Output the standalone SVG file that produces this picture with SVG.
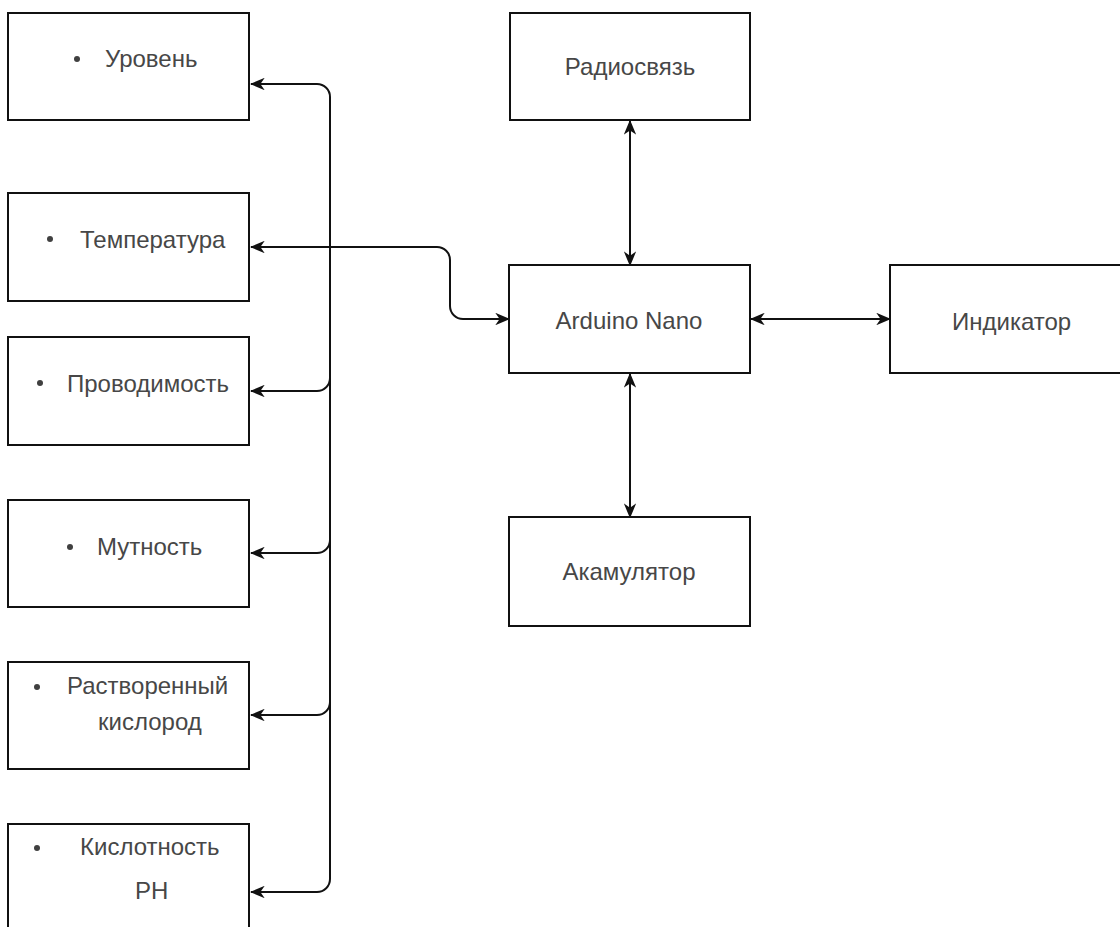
<svg xmlns="http://www.w3.org/2000/svg" width="1120" height="927" viewBox="0 0 1120 927">
<style>
.box{fill:#fff;stroke:#111;stroke-width:2}
.t{font-family:"Liberation Sans",Arial,sans-serif;font-size:24px;fill:#474747}
.c{text-anchor:middle}
.b{fill:#404040}
.ln{fill:none;stroke:#111;stroke-width:2}
</style>
<defs>
<marker id="arr" viewBox="0 0 12 10" refX="11" refY="5" markerWidth="15" markerHeight="12.5" markerUnits="userSpaceOnUse" orient="auto-start-reverse">
<path d="M0,0 L12,5 L0,10 L3.5,5 Z" fill="#111"/>
</marker>
</defs>
<rect width="1120" height="927" fill="#fff"/>
<g id="connectors">
<path class="ln" d="M330,97 L330,879"/>
<path class="ln" marker-end="url(#arr)" d="M330,97 A13,13 0 0 0 317,84 L251,84"/>
<path class="ln" marker-start="url(#arr)" marker-end="url(#arr)" d="M251,247 L437,247 A13,13 0 0 1 450,260 L450,306 A13,13 0 0 0 463,319 L509,319"/>
<path class="ln" marker-end="url(#arr)" d="M330,378 A13,13 0 0 1 317,391 L251,391"/>
<path class="ln" marker-end="url(#arr)" d="M330,540 A13,13 0 0 1 317,553 L251,553"/>
<path class="ln" marker-end="url(#arr)" d="M330,702 A13,13 0 0 1 317,715 L251,715"/>
<path class="ln" marker-end="url(#arr)" d="M330,879 A13,13 0 0 1 317,892 L251,892"/>
<path class="ln" marker-start="url(#arr)" marker-end="url(#arr)" d="M630,121 L630,265"/>
<path class="ln" marker-start="url(#arr)" marker-end="url(#arr)" d="M630,374 L630,517"/>
<path class="ln" marker-start="url(#arr)" marker-end="url(#arr)" d="M751,319 L890,319"/>
</g>
<g id="n-uroven">
<rect class="box" x="8" y="13" width="241" height="107"/>
<circle class="b" cx="77" cy="59" r="3"/>
<text class="t" x="105" y="67">Уровень</text>
</g>
<g id="n-temp">
<rect class="box" x="8" y="193" width="241" height="108"/>
<circle class="b" cx="50" cy="239" r="3"/>
<text class="t" x="80" y="248">Температура</text>
</g>
<g id="n-provod">
<rect class="box" x="8" y="337" width="241" height="108"/>
<circle class="b" cx="40" cy="383" r="3"/>
<text class="t" x="67" y="392">Проводимость</text>
</g>
<g id="n-mutn">
<rect class="box" x="8" y="500" width="241" height="107"/>
<circle class="b" cx="70" cy="547" r="3"/>
<text class="t" x="97" y="555">Мутность</text>
</g>
<g id="n-kisl">
<rect class="box" x="8" y="662" width="241" height="107"/>
<circle class="b" cx="37" cy="687" r="3"/>
<text class="t" x="67" y="694">Растворенный</text>
<text class="t" x="98" y="730">кислород</text>
</g>
<g id="n-ph">
<rect class="box" x="8" y="824" width="241" height="110"/>
<circle class="b" cx="37" cy="848" r="3"/>
<text class="t" x="80" y="855">Кислотность</text>
<text class="t" x="135" y="899">PH</text>
</g>
<g id="n-radio">
<rect class="box" x="510" y="13" width="240" height="107"/>
<text class="t c" x="630" y="75">Радиосвязь</text>
</g>
<g id="n-arduino">
<rect class="box" x="509" y="265" width="241" height="108"/>
<text class="t c" x="629" y="329">Arduino Nano</text>
</g>
<g id="n-akk">
<rect class="box" x="509" y="517" width="241" height="109"/>
<text class="t c" x="629" y="580">Акамулятор</text>
</g>
<g id="n-ind">
<rect class="box" x="890" y="265" width="240" height="108"/>
<text class="t" x="952" y="330">Индикатор</text>
</g>
</svg>
